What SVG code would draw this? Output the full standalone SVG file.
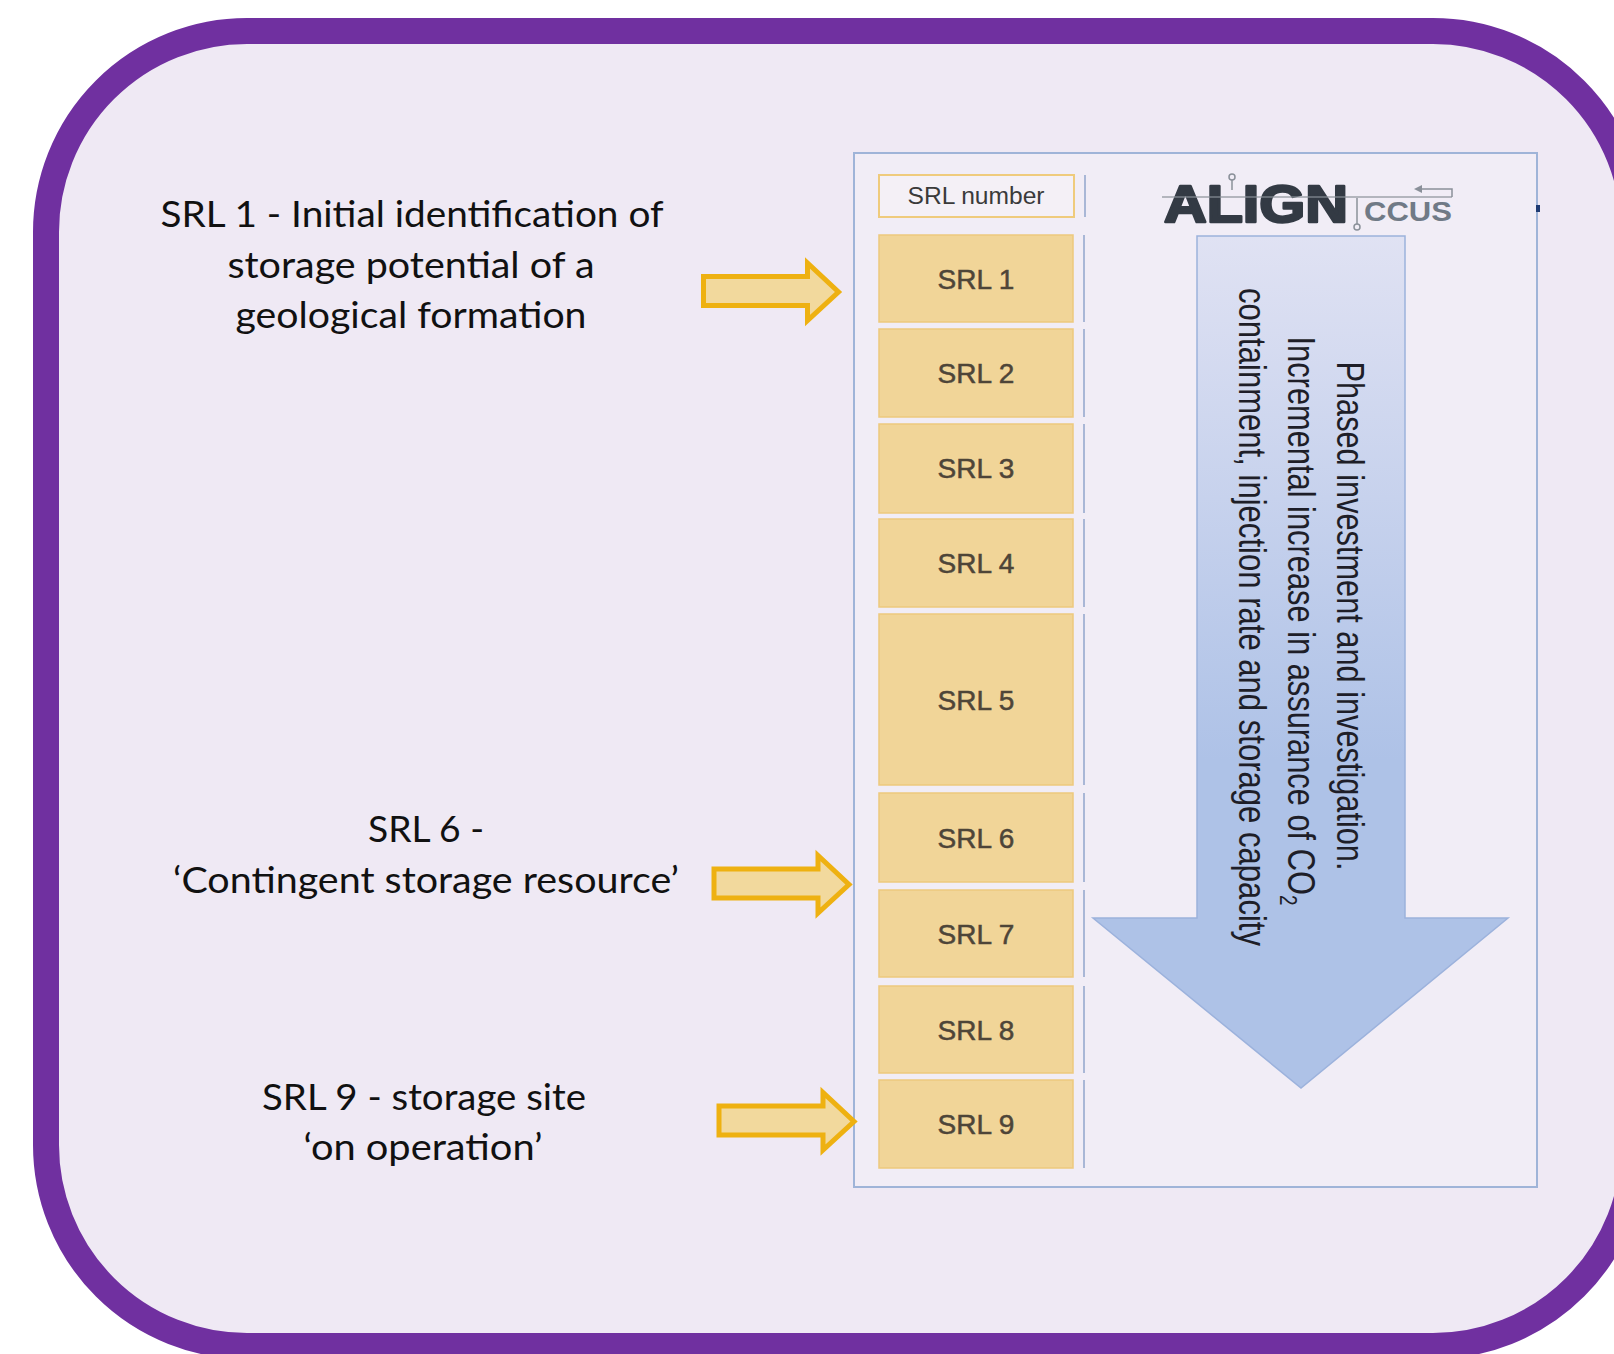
<svg xmlns="http://www.w3.org/2000/svg" width="1614" height="1354" viewBox="0 0 1614 1354">
<defs>
<linearGradient id="bigArrowFill" gradientUnits="userSpaceOnUse" x1="0" y1="236" x2="0" y2="760">
<stop offset="0" stop-color="#E0E2F3"/>
<stop offset="1" stop-color="#AEC2E7"/>
</linearGradient>
<style>
.lbl{font-family:Lato,"Liberation Sans",sans-serif;font-size:36px;fill:#111111;text-anchor:middle}
.box{fill:#F1D598;stroke:#EDC97D;stroke-width:1.5}
.boxtxt{font-family:"Liberation Sans",Arial,sans-serif;font-size:28px;fill:#4E4538;stroke:#4E4538;stroke-width:0.5;text-anchor:middle}
.vsep{stroke:#A9B7D6;stroke-width:2}
.yarrow{fill:#F2D99D;stroke:#EEB111;stroke-width:5;stroke-linejoin:miter}
.atxt{font-family:"Liberation Sans",Arial,sans-serif;font-size:39px;fill:#1E1E28;text-anchor:middle}
.circ{fill:none;stroke:#8A9099;stroke-width:1.5}
</style>
</defs>
<rect x="0" y="0" width="1614" height="1354" fill="#FFFFFF"/>
<g id="frame">
<rect x="46" y="31" width="1588" height="1315" rx="201" ry="201" fill="#EFE9F4" stroke="#7030A0" stroke-width="26"/>
</g>
<g id="panel">
<rect x="854" y="153" width="683" height="1034" fill="#F1EDF6" stroke="#9FB4D8" stroke-width="2"/>
<rect x="1536" y="205" width="4" height="7" fill="#1F3B73"/>
<line class="vsep" x1="1085" y1="175" x2="1085" y2="217"/>
<line class="vsep" x1="1084" y1="235" x2="1084" y2="322"/>
<line class="vsep" x1="1084" y1="329" x2="1084" y2="417"/>
<line class="vsep" x1="1084" y1="424" x2="1084" y2="513"/>
<line class="vsep" x1="1084" y1="519" x2="1084" y2="607"/>
<line class="vsep" x1="1084" y1="614" x2="1084" y2="785"/>
<line class="vsep" x1="1084" y1="793" x2="1084" y2="882"/>
<line class="vsep" x1="1084" y1="890" x2="1084" y2="977"/>
<line class="vsep" x1="1084" y1="986" x2="1084" y2="1073"/>
<line class="vsep" x1="1084" y1="1080" x2="1084" y2="1168"/>
</g>
<g id="srl-header">
<rect x="879" y="175" width="195" height="42" fill="#F4F0F6" stroke="#EFCB7C" stroke-width="2"/>
<text x="976" y="204" font-family="'Liberation Sans',Arial,sans-serif" font-size="23" fill="#3A3A3A" text-anchor="middle" textLength="137" lengthAdjust="spacingAndGlyphs">SRL number</text>
</g>
<g id="srl1"><rect class="box" x="879" y="235" width="194" height="87"/><text class="boxtxt" x="976" y="289">SRL 1</text></g>
<g id="srl2"><rect class="box" x="879" y="329" width="194" height="88"/><text class="boxtxt" x="976" y="383">SRL 2</text></g>
<g id="srl3"><rect class="box" x="879" y="424" width="194" height="89"/><text class="boxtxt" x="976" y="478">SRL 3</text></g>
<g id="srl4"><rect class="box" x="879" y="519" width="194" height="88"/><text class="boxtxt" x="976" y="573">SRL 4</text></g>
<g id="srl5"><rect class="box" x="879" y="614" width="194" height="171"/><text class="boxtxt" x="976" y="710">SRL 5</text></g>
<g id="srl6"><rect class="box" x="879" y="793" width="194" height="89"/><text class="boxtxt" x="976" y="848">SRL 6</text></g>
<g id="srl7"><rect class="box" x="879" y="890" width="194" height="87"/><text class="boxtxt" x="976" y="944">SRL 7</text></g>
<g id="srl8"><rect class="box" x="879" y="986" width="194" height="87"/><text class="boxtxt" x="976" y="1040">SRL 8</text></g>
<g id="srl9"><rect class="box" x="879" y="1080" width="194" height="88"/><text class="boxtxt" x="976" y="1134">SRL 9</text></g>
<g id="logo">
<text x="1164" y="222" font-family="'Liberation Sans',Arial,sans-serif" font-weight="bold" font-size="52" fill="#333A44" stroke="#333A44" stroke-width="2.5" stroke-linejoin="round" textLength="184" lengthAdjust="spacingAndGlyphs">ALIGN</text>
<line x1="1162" y1="197" x2="1452" y2="197" stroke="#8A9099" stroke-width="1.5" opacity="0.8"/>
<text x="1364" y="221" font-family="'Liberation Sans',Arial,sans-serif" font-weight="bold" font-size="27" fill="#707A86" textLength="88" lengthAdjust="spacingAndGlyphs">CCUS</text>
<line x1="1232" y1="180" x2="1232" y2="190" stroke="#8A9099" stroke-width="1.5"/>
<circle class="circ" cx="1232" cy="177" r="3"/>
<line x1="1357" y1="198" x2="1357" y2="224" stroke="#8A9099" stroke-width="1.5"/>
<circle class="circ" cx="1357" cy="227" r="3"/>
<polyline points="1452,197 1452,189 1418,189" fill="none" stroke="#8A9099" stroke-width="1.5"/>
<polygon points="1414,189 1422,185 1422,193" fill="#8A9099"/>
</g>
<g id="progress-arrow">
<path d="M1197,236 H1405 V918 H1508 L1301,1088 L1093,918 H1197 Z" fill="url(#bigArrowFill)" stroke="#9CB2DC" stroke-width="1.5"/>
<text class="atxt" transform="translate(1337,616) rotate(90)" textLength="509" lengthAdjust="spacingAndGlyphs">Phased investment and investigation.</text>
<text class="atxt" transform="translate(1288,621) rotate(90)" textLength="569" lengthAdjust="spacingAndGlyphs">Incremental increase in assurance of CO<tspan font-size="24" dy="8">2</tspan></text>
<text class="atxt" transform="translate(1239,617) rotate(90)" textLength="658" lengthAdjust="spacingAndGlyphs">containment, injection rate and storage capacity</text>
</g>
<g id="label-srl1">
<text class="lbl" x="412" y="227" textLength="503" lengthAdjust="spacingAndGlyphs">SRL 1 - Initial identification of</text>
<text class="lbl" x="411" y="278" textLength="367" lengthAdjust="spacingAndGlyphs">storage potential of a</text>
<text class="lbl" x="411" y="328" textLength="351" lengthAdjust="spacingAndGlyphs">geological formation</text>
</g>
<g id="label-srl6">
<text class="lbl" x="426" y="842" textLength="116" lengthAdjust="spacingAndGlyphs">SRL 6 -</text>
<text class="lbl" x="426" y="893" textLength="506" lengthAdjust="spacingAndGlyphs">‘Contingent storage resource’</text>
</g>
<g id="label-srl9">
<text class="lbl" x="424" y="1110" textLength="324" lengthAdjust="spacingAndGlyphs">SRL 9 - storage site</text>
<text class="lbl" x="423" y="1160" textLength="239" lengthAdjust="spacingAndGlyphs">‘on operation’</text>
</g>
<g id="connectors">
<polygon class="yarrow" points="703.5,276.5 807.5,276.5 807.5,263 838.5,292 807.5,320.5 807.5,305.5 703.5,305.5"/>
<polygon class="yarrow" transform="translate(10.5,592.5)" points="703.5,276.5 807.5,276.5 807.5,263 838.5,292 807.5,320.5 807.5,305.5 703.5,305.5"/>
<polygon class="yarrow" transform="translate(15.5,829.5)" points="703.5,276.5 807.5,276.5 807.5,263 838.5,292 807.5,320.5 807.5,305.5 703.5,305.5"/>
</g>
</svg>
